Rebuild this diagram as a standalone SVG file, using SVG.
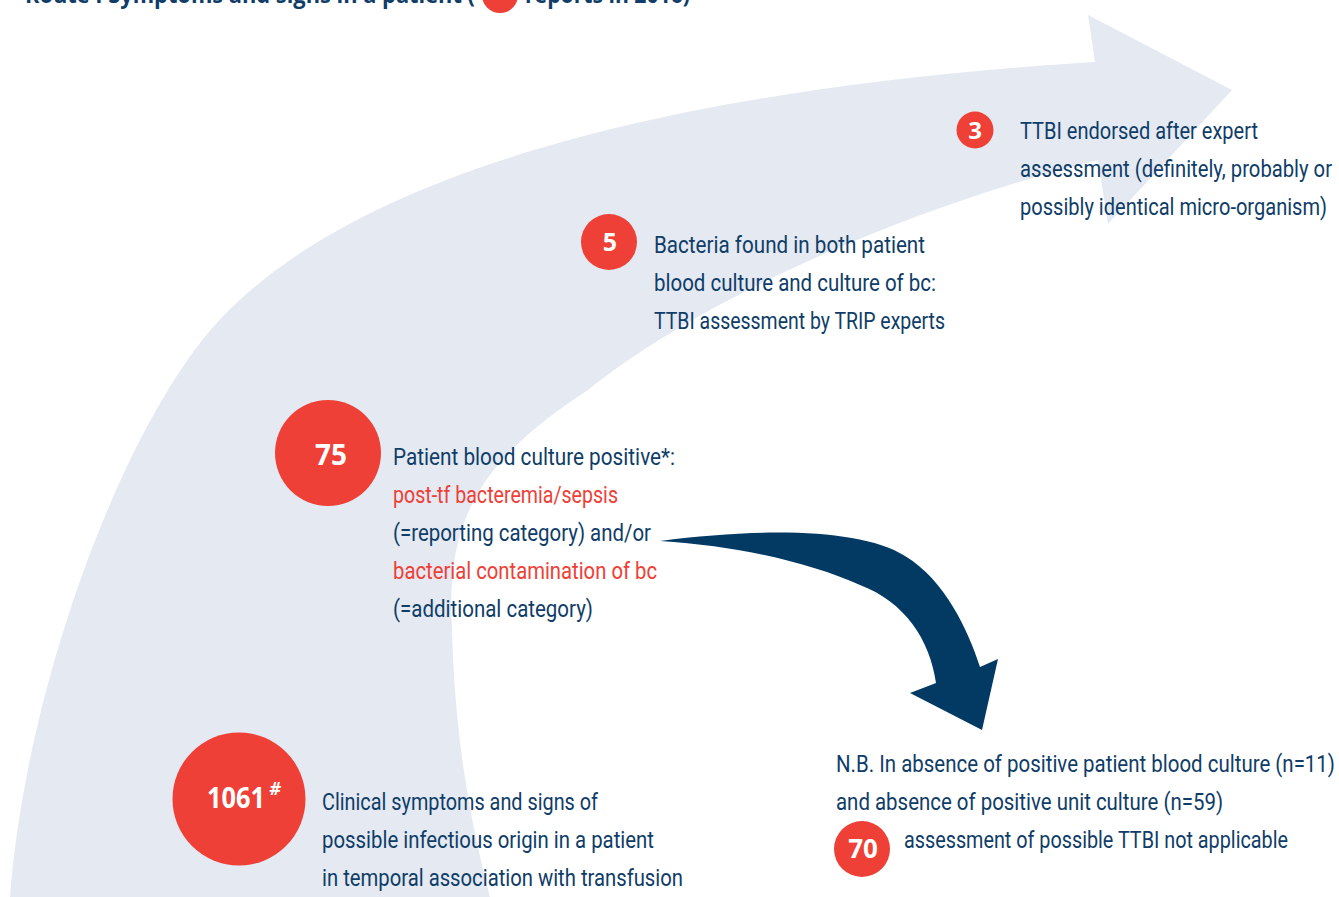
<svg xmlns="http://www.w3.org/2000/svg" width="1339" height="897" viewBox="0 0 1339 897">
  <style>
    .band { fill: #e4e9f2; }
    .flow { fill: #033a63; }
    .dot { fill: #ee4036; }
    .num { fill: #ffffff; font-family: "Open Sans", "Liberation Sans", sans-serif; font-weight: 700; text-anchor: middle; }
    .txt { fill: #0f3d68; font-family: "Roboto", "Liberation Sans", sans-serif; font-size: 23px; }
    .hl { fill: #ee4036; }
    .title { fill: #0f3d68; font-family: "Open Sans", "Liberation Sans", sans-serif; font-size: 24px; font-weight: 700; }
  </style>

  <rect width="1339" height="897" fill="#ffffff"/>

  <!-- background: wide curved arrow sweeping up to the right -->
  <path id="band" class="band" d="M 9 900 L 10 897 C 25 700, 110 460, 200 343 C 300 213, 560 95, 1095 62 L 1088 15 L 1232 90 L 1108 224 L 1098 160 C 900 210, 700 300, 588 390 C 480 460, 445 520, 452 630 C 455 740, 470 820, 490 897 L 492 900 Z"/>

  <!-- heading (runs off the top edge) -->
  <g id="title">
    <text class="title" x="25" y="3" textLength="450" lengthAdjust="spacingAndGlyphs">Route I Symptoms and signs in a patient (</text>
    <circle class="dot" cx="500" cy="-5" r="18"/>
    <text class="title" x="525" y="3" textLength="165" lengthAdjust="spacingAndGlyphs">reports in 2016)</text>
  </g>

  <!-- connectors -->
  <g id="connectors">
    <path id="to-nb" class="flow" d="M 660 541 C 760 528, 860 528, 905 556 C 945 580, 968 630, 980 667 L 998 659 L 982 730 L 910 693 L 936 683 C 930 640, 905 602, 860 585 C 810 563, 740 546, 660 541 Z"/>
  </g>

  <!-- step: 1061 -->
  <g id="node-1061">
    <circle class="dot" cx="239" cy="799" r="66.5"/>
    <text class="num" x="236" y="808" font-size="28" textLength="58" lengthAdjust="spacingAndGlyphs">1061</text>
    <text class="num" x="275" y="795" font-size="18" font-style="italic" font-weight="400">#</text>
    <text class="txt" x="322" y="810" textLength="276" lengthAdjust="spacingAndGlyphs">Clinical symptoms and signs of</text>
    <text class="txt" x="322" y="848" textLength="332" lengthAdjust="spacingAndGlyphs">possible infectious origin in a patient</text>
    <text class="txt" x="322" y="886" textLength="361" lengthAdjust="spacingAndGlyphs">in temporal association with transfusion</text>
  </g>

  <!-- step: 75 -->
  <g id="node-75">
    <circle class="dot" cx="328" cy="453" r="53"/>
    <text class="num" x="331" y="465" font-size="28">75</text>
    <text class="txt" x="393" y="465" textLength="282" lengthAdjust="spacingAndGlyphs">Patient blood culture positive*:</text>
    <text class="txt hl" x="393" y="503" textLength="225" lengthAdjust="spacingAndGlyphs">post-tf bacteremia/sepsis</text>
    <text class="txt" x="393" y="541" textLength="258" lengthAdjust="spacingAndGlyphs">(=reporting category) and/or</text>
    <text class="txt hl" x="393" y="579" textLength="264" lengthAdjust="spacingAndGlyphs">bacterial contamination of bc</text>
    <text class="txt" x="393" y="617" textLength="200" lengthAdjust="spacingAndGlyphs">(=additional category)</text>
  </g>

  <!-- step: 5 -->
  <g id="node-5">
    <circle class="dot" cx="609" cy="242" r="28"/>
    <text class="num" x="610" y="251" font-size="25">5</text>
    <text class="txt" x="654" y="253" textLength="271" lengthAdjust="spacingAndGlyphs">Bacteria found in both patient</text>
    <text class="txt" x="654" y="291" textLength="282" lengthAdjust="spacingAndGlyphs">blood culture and culture of bc:</text>
    <text class="txt" x="654" y="329" textLength="291" lengthAdjust="spacingAndGlyphs">TTBI assessment by TRIP experts</text>
  </g>

  <!-- step: 3 -->
  <g id="node-3">
    <circle class="dot" cx="975" cy="130" r="18.5"/>
    <text class="num" x="975" y="139" font-size="24">3</text>
    <text class="txt" x="1020" y="139" textLength="238" lengthAdjust="spacingAndGlyphs">TTBI endorsed after expert</text>
    <text class="txt" x="1020" y="177" textLength="312" lengthAdjust="spacingAndGlyphs">assessment (definitely, probably or</text>
    <text class="txt" x="1020" y="215" textLength="307" lengthAdjust="spacingAndGlyphs">possibly identical micro-organism)</text>
  </g>

  <!-- note: 70 -->
  <g id="node-70">
    <text class="txt" x="836" y="772" textLength="499" lengthAdjust="spacingAndGlyphs">N.B. In absence of positive patient blood culture (n=11)</text>
    <text class="txt" x="836" y="810" textLength="387" lengthAdjust="spacingAndGlyphs">and absence of positive unit culture (n=59)</text>
    <circle class="dot" cx="862" cy="849" r="28"/>
    <text class="num" x="863" y="858" font-size="26">70</text>
    <text class="txt" x="904" y="848" textLength="384" lengthAdjust="spacingAndGlyphs">assessment of possible TTBI not applicable</text>
  </g>
</svg>
